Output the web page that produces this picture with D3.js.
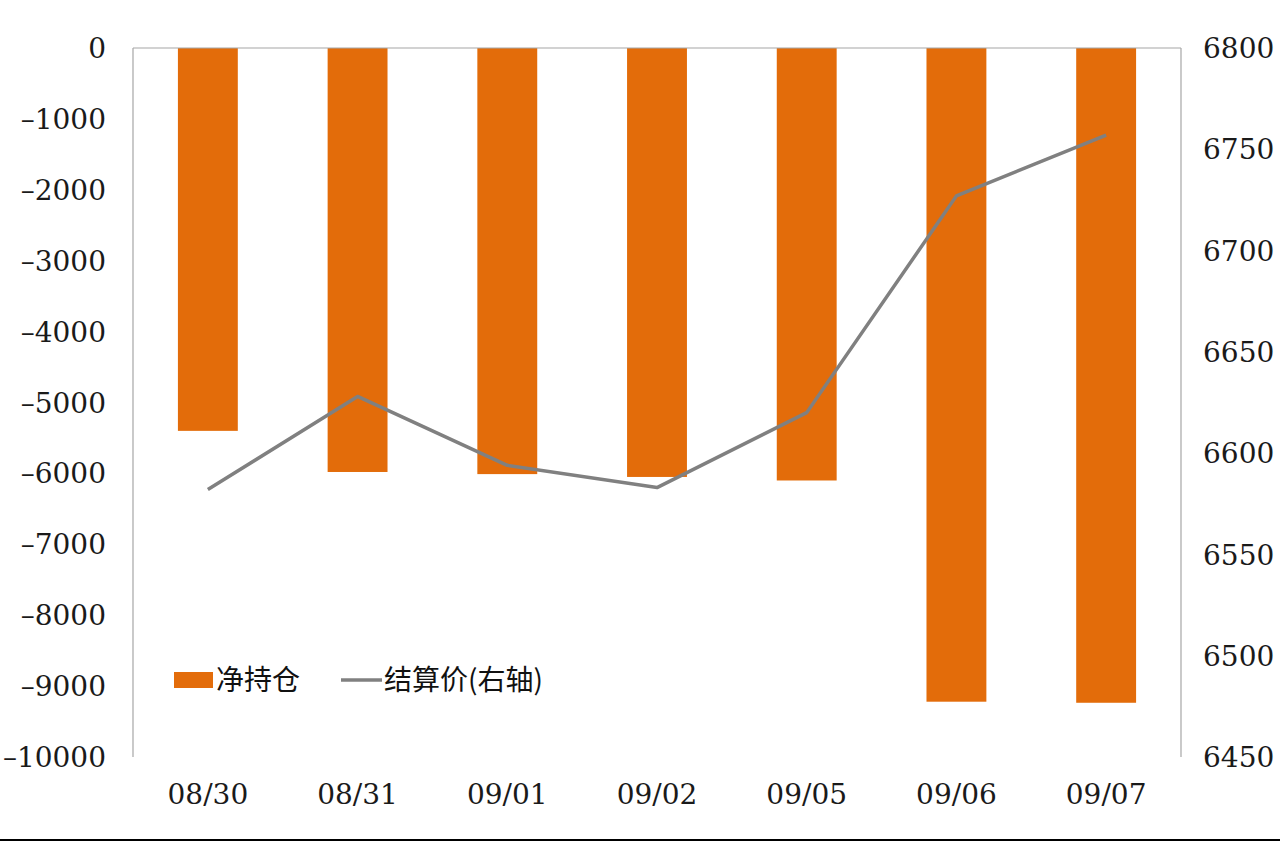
<!DOCTYPE html>
<html><head><meta charset="utf-8">
<script src="https://cdn.jsdelivr.net/npm/d3@7"></script>
<style>body{margin:0;background:#fff}svg{display:block}</style>
</head><body><svg id="c" width="1280" height="841"></svg>
<script>
const categories = ["08/30","08/31","09/01","09/02","09/05","09/06","09/07"];
const netPosition = [-5400,-5980,-6010,-6050,-6100,-9220,-9235];
const settlePrice = [6582,6628,6594,6583,6620,6727,6757];
const leftTicks = [0,-1000,-2000,-3000,-4000,-5000,-6000,-7000,-8000,-9000,-10000];
const rightTicks = [6800,6750,6700,6650,6600,6550,6500,6450];
const seriesNames = ["净持仓","结算价(右轴)"];

const svg = d3.select("#c");
const L=133, R=1181, T=48, B=757;
const numFont = "'DejaVu Serif', serif";
const cjkFont = "'Noto Sans CJK SC', sans-serif";

const x = d3.scaleBand().domain(categories).range([L,R]).paddingInner(0.6).paddingOuter(0.3);
const yL = d3.scaleLinear().domain([-10000,0]).range([B,T]);
const yR = d3.scaleLinear().domain([6450,6800]).range([B,T]);

// bars
svg.append("g").selectAll("rect").data(netPosition).join("rect")
  .attr("x",(d,i)=>x(categories[i])).attr("width",x.bandwidth())
  .attr("y",yL(0)).attr("height",d=>yL(d)-yL(0)).attr("fill","#E36C0A");

// axes lines
const ax = svg.append("g").attr("stroke","#a6a6a6").attr("stroke-width",1.2).attr("fill","none");
ax.append("line").attr("x1",L).attr("x2",L).attr("y1",T).attr("y2",B);
ax.append("line").attr("x1",R).attr("x2",R).attr("y1",T).attr("y2",B);
ax.append("line").attr("x1",L).attr("x2",R).attr("y1",yL(0)).attr("y2",yL(0));

// line
const line = d3.line().x((d,i)=>x(categories[i])+x.bandwidth()/2).y(d=>yR(d));
svg.append("path").datum(settlePrice).attr("d",line).attr("fill","none")
  .attr("stroke","#808080").attr("stroke-width",3.5).attr("stroke-linejoin","round");

// ticks
const fmt = d=> d<0 ? "\u2013"+Math.abs(d) : String(d);
const txtStyle = s => s.attr("font-family",numFont).attr("font-size",28).attr("fill","#1a1a1a");
svg.append("g").selectAll("text").data(leftTicks).join("text")
  .attr("x",106).attr("y",d=>yL(d)).attr("dy","0.36em").attr("text-anchor","end")
  .call(txtStyle).text(fmt);
svg.append("g").selectAll("text").data(rightTicks).join("text")
  .attr("x",1203).attr("y",d=>yR(d)).attr("dy","0.36em").attr("text-anchor","start")
  .call(txtStyle).text(d=>d);
svg.append("g").selectAll("text").data(categories).join("text")
  .attr("x",d=>x(d)+x.bandwidth()/2).attr("y",804).attr("text-anchor","middle")
  .call(txtStyle).text(d=>d);

// legend
const lg = svg.append("g");
lg.append("rect").attr("x",174).attr("y",672).attr("width",39).attr("height",16).attr("fill","#E36C0A");
lg.append("text").attr("x",216).attr("y",690).attr("font-family",cjkFont).attr("font-size",28).attr("fill","#111").text(seriesNames[0]);
lg.append("line").attr("x1",341).attr("x2",382).attr("y1",680).attr("y2",680).attr("stroke","#808080").attr("stroke-width",3.5);
lg.append("text").attr("x",384).attr("y",690).attr("font-family",cjkFont).attr("font-size",28).attr("fill","#111").text(seriesNames[1]);

// bottom border
svg.append("line").attr("x1",0).attr("x2",1280).attr("y1",840).attr("y2",840).attr("stroke","#000").attr("stroke-width",2);
</script></body></html>
